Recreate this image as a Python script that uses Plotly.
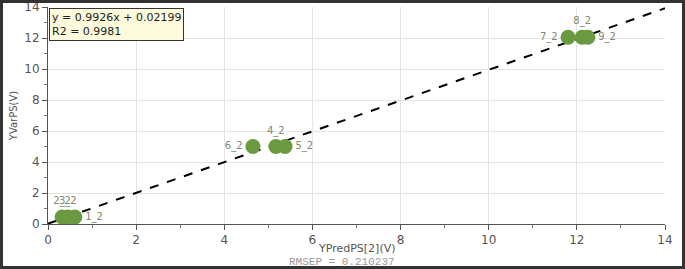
import plotly.graph_objects as go

# data
labels = ["1_2", "2_2", "3_2", "4_2", "5_2", "6_2", "7_2", "8_2", "9_2"]
x_pred = [0.61, 0.32, 0.45, 5.17, 5.38, 4.65, 11.80, 12.12, 12.25]
y_var = [0.45, 0.45, 0.45, 5.0, 5.0, 5.0, 12.05, 12.05, 12.05]
label_pos = ["middle right", "top center", "top center", "top center", "middle right",
             "middle left", "middle left", "top center", "middle right"]
slope = 0.9926
intercept = 0.02199
r2 = 0.9981
rmsep = 0.210237
x_title = "YPredPS[2](V)"
y_title = "YVarPS(V)"
line_x = [0, 14]
line_y = [slope * v + intercept for v in line_x]
ticks = [0, 2, 4, 6, 8, 10, 12, 14]

W, H = 685, 269
ml, mr, mt, mb = 48, 20, 7, 45
pw, ph = W - ml - mr, H - mt - mb

fig = go.Figure()
fig.add_trace(go.Scatter(x=line_x, y=line_y, mode="lines",
                         line=dict(color="black", width=2, dash="dash"),
                         hoverinfo="skip", showlegend=False))
fig.add_trace(go.Scatter(x=x_pred, y=y_var, mode="markers+text", text=labels,
                         textposition=label_pos,
                         textfont=dict(family="DejaVu Sans", size=10, color="#7d8a6e"),
                         marker=dict(size=15, color="#6a9a40"),
                         showlegend=False))

axis_common = dict(range=[0, 14], tickvals=ticks, showgrid=True, gridcolor="#e4e4e4",
                   showline=True, linecolor="#555555", linewidth=1, ticks="outside",
                   ticklen=5, tickcolor="#555555", zeroline=False, automargin=False,
                   tickfont=dict(family="DejaVu Sans", size=12, color="#555555"),
                   minor=dict(ticks="outside", dtick=1, ticklen=3, tickcolor="#777777"),
                   fixedrange=True)

fig.update_layout(
    width=W, height=H,
    margin=dict(l=ml, r=mr, t=mt, b=mb, autoexpand=False),
    paper_bgcolor="white", plot_bgcolor="white",
    xaxis=dict(**axis_common),
    yaxis=dict(**axis_common, title=dict(text=y_title,
               font=dict(family="DejaVu Sans", size=10, color="#555555"), standoff=4)),
)

def ypix(p):
    return -(p - (mt + ph)) / ph

fig.add_annotation(xref="paper", yref="paper", x=0.002, y=0.995, xanchor="left", yanchor="top",
                   text=f"y = {slope}x + {intercept}<br>R2 = {r2}", align="left", showarrow=False,
                   font=dict(family="DejaVu Sans", size=11, color="#222222"),
                   bgcolor="#fdfbdc", bordercolor="#333333", borderwidth=1, borderpad=2)
fig.add_annotation(xref="paper", yref="paper", x=0.5, y=ypix(248.5),
                   xanchor="center", yanchor="middle", text=x_title, showarrow=False,
                   font=dict(family="DejaVu Sans", size=11, color="#555555"))
fig.add_annotation(xref="paper", yref="paper", x=(342 - ml) / pw, y=ypix(261.5),
                   xanchor="center", yanchor="middle", text=f"RMSEP = {rmsep}", showarrow=False,
                   font=dict(family="Liberation Mono", size=11, color="#999999"))

fig.add_shape(type="rect", xref="paper", yref="paper",
              x0=-(ml - 1.5) / pw, x1=1 + (mr - 1.5) / pw,
              y0=-(mb - 1.5) / ph, y1=1 + (mt - 1.5) / ph,
              line=dict(color="#333333", width=3), layer="above")

fig.write_html("out.html", config={"displayModeBar": False},
               post_script="document.body.style.margin='0';document.body.style.overflow='hidden';")
